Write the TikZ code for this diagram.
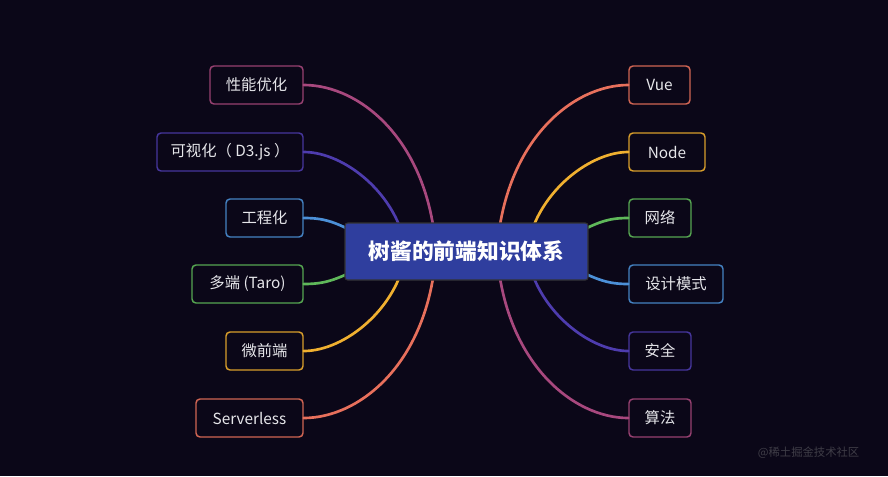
\documentclass[tikz,border=0pt]{standalone}
\usepackage{fontspec}
\setmainfont{Noto Sans CJK SC}
\begin{document}
\begin{tikzpicture}[x=0.75pt,y=-0.75pt,
  leaf/.style={draw=#1, line width=1.1pt, rounded corners=3pt, fill=bg,
    minimum height=28.5pt, inner sep=0pt, text=txt, font=\fontsize{11.5}{13}\selectfont},
  link/.style={draw=#1, line width=2pt, line cap=round}]
\definecolor{bg}{HTML}{0B0718}
\definecolor{txt}{HTML}{E6E6EA}
\definecolor{csal}{HTML}{E8705C}
\definecolor{cyel}{HTML}{F0B030}
\definecolor{cgrn}{HTML}{5FB85A}
\definecolor{cblu}{HTML}{4C90D8}
\definecolor{cpur}{HTML}{4E3CAE}
\definecolor{cpnk}{HTML}{A8487E}
\definecolor{cmain}{HTML}{2F3E9E}
\fill[bg] (0,0) rectangle (888,476);
\useasboundingbox (0,0) rectangle (888,476);

% left nodes
\node[leaf=cpnk!90!black, minimum width=69.75pt] (perf) at (256.5,85) {性能优化};
\node[leaf=cpur!90!black, minimum width=109.5pt] (vis) at (230,152) {可视化（ D3.js ）};
\node[leaf=cblu!90!black, minimum width=57.75pt] (eng) at (264.5,218) {工程化};
\node[leaf=cgrn!90!black, minimum width=83.25pt] (taro) at (247.5,284) {多端 (Taro)};
\node[leaf=cyel!90!black, minimum width=57.75pt] (micro) at (264.5,351) {微前端};
\node[leaf=csal!90!black, minimum width=80.25pt] (srv) at (249.5,418) {Serverless};
% right nodes
\node[leaf=csal!90!black, minimum width=45.75pt] (vue) at (659.5,85) {Vue};
\node[leaf=cyel!90!black, minimum width=57pt] (nodejs) at (667,152) {Node};
\node[leaf=cgrn!90!black, minimum width=46.5pt] (net) at (660,218) {网络};
\node[leaf=cblu!90!black, minimum width=70.5pt] (dp) at (676,284) {设计模式};
\node[leaf=cpur!90!black, minimum width=46.5pt] (sec) at (660,351) {安全};
\node[leaf=cpnk!90!black, minimum width=46.5pt] (algo) at (660,418) {算法};

% end points under the central node
\coordinate (e1) at (436,250);
\coordinate (e2) at (406,250);
\coordinate (e3) at (360,235);
\coordinate (e4) at (360,268);
\coordinate (e5) at (406,253);
\coordinate (e6) at (436,253);
\coordinate (f1) at (497,250);
\coordinate (f2) at (527,250);
\coordinate (f3) at (573,235);
\coordinate (f4) at (573,268);
\coordinate (f5) at (527,253);
\coordinate (f6) at (497,253);

\draw[link=cpnk] (perf.east) .. controls (360,85) and (428,140) .. (e1);
\draw[link=cpur] (vis.east) .. controls (345,152) and (398,195) .. (e2);
\draw[link=cblu] (eng.east) .. controls (325,218) and (335,222) .. (e3);
\draw[link=cgrn] (taro.east) .. controls (325,284) and (335,280) .. (e4);
\draw[link=cyel] (micro.east) .. controls (345,351) and (398,308) .. (e5);
\draw[link=csal] (srv.east) .. controls (360,418) and (428,363) .. (e6);

\draw[link=csal] (vue.west) .. controls (573,85) and (505,140) .. (f1);
\draw[link=cyel] (nodejs.west) .. controls (588,152) and (535,195) .. (f2);
\draw[link=cgrn] (net.west) .. controls (608,218) and (598,222) .. (f3);
\draw[link=cblu] (dp.west) .. controls (608,284) and (598,280) .. (f4);
\draw[link=cpur] (sec.west) .. controls (588,351) and (535,308) .. (f5);
\draw[link=cpnk] (algo.west) .. controls (573,418) and (505,363) .. (f6);

% central node
\node[fill=cmain, draw=black!60!gray, line width=0.8pt, rounded corners=2pt,
  minimum width=182.25pt, minimum height=42.75pt, inner sep=0pt,
  text=white, font=\fontsize{16.3}{19}\selectfont\bfseries] (root) at (466.5,251.5) {树酱的前端知识体系};

% watermark
\node[text=gray!45!bg, font=\fontsize{8.5}{10}\selectfont, anchor=east] (wm) at (864,453) {@稀土掘金技术社区};
\end{tikzpicture}
\end{document}
